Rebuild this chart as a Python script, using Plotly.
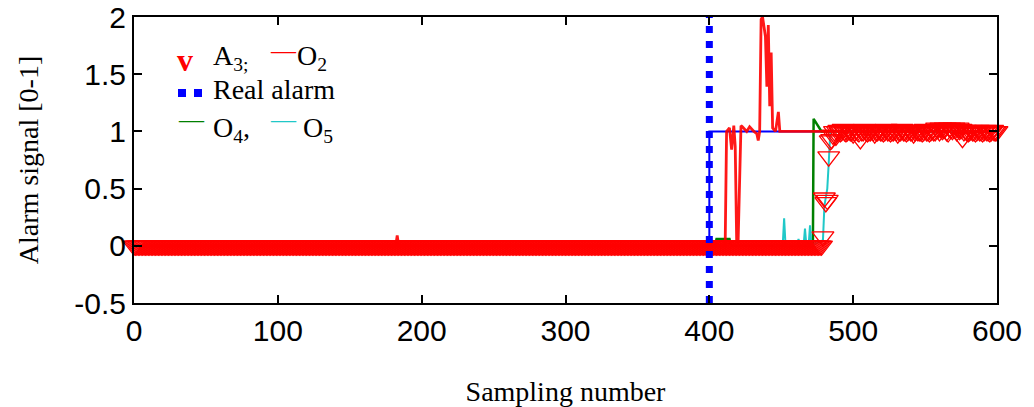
import plotly.graph_objects as go

# ---------------- data ----------------
alarm_time = 400  # sample where the real fault starts

# Real alarm (step at the fault time)
real_x = [400, 400, 600]
real_y = [0, 1, 1]

# O2 detector output (red line), breakpoints
o2_x = [0, 182, 183, 184, 411, 412, 414, 415.5, 417, 418, 419, 420, 422, 423, 426,
        428, 431, 433, 434, 435, 436, 437, 439, 440, 441, 442, 443, 444, 446, 448,
        449, 600]
o2_y = [0, 0, 0.09, 0, 0, 1.0, 1.03, 0.84, 1.05, 0.87, 0.05, 0.03, 1.05, 1.04, 1.0,
        1.04, 1.0, 0.98, 0.92, 1.0, 1.98, 2.0, 1.83, 1.39, 1.93, 1.22, 1.69, 1.03, 1.0, 1.17,
        1.0, 1.0]

# O4 detector output (green line)
o4_x = [400, 404, 405, 414, 415, 472, 472.5, 474, 476, 478, 600]
o4_y = [0.0, 0.0, 0.06, 0.06, 0.0, 0.0, 1.11, 1.08, 1.03, 1.0, 1.0]

# O5 detector output (cyan line)
o5_x = [445, 451, 452, 453, 461, 462, 463, 465.5, 466.5, 467.5, 469, 470, 471,
        479, 480, 481, 482, 483, 484, 485, 600]
o5_y = [0.0, 0.0, 0.24, 0.0, 0.0, 0.06, 0.0, 0.0, 0.15, 0.0, 0.0, 0.18, 0.0,
        0.05, 0.35, 0.42, 0.5, 0.72, 0.97, 1.0, 1.0]

# A3 detector output (red open triangles), one value per sample 0..600
a3_before = [0.0] * 479                      # samples 0..478
a3_transition = [0.08, 0.42, 0.38, 0.40, 0.78, 0.92, 0.93, 0.97]   # 479..486
a3_after = [1.00, 0.96, 1.00, 1.01, 0.99, 1.00, 1.02, 1.00, 0.99, 1.00,
            1.01, 1.00, 1.00, 0.98, 1.00, 1.01, 1.00, 0.99, 0.93, 1.00,
            1.00, 1.02, 1.00, 0.99, 1.00, 1.00, 1.01, 1.00, 0.98, 1.00,
            1.00, 1.01, 1.00, 1.00, 0.99, 1.00, 1.02, 1.00, 1.00, 0.99,
            1.00, 1.00, 1.01, 1.00, 0.98, 1.00, 1.00, 1.02, 1.00, 1.00,
            0.99, 1.00, 1.01, 1.00, 1.00, 0.98, 1.00, 1.01, 1.00, 1.00,
            1.00, 0.99, 1.00, 1.02, 1.00, 1.00, 0.99, 1.00, 1.01, 1.00,
            1.00, 1.03, 1.02, 1.00, 1.03, 1.01, 1.02, 1.03, 1.00, 0.99,
            1.03, 1.02, 1.01, 1.03, 1.02, 1.00, 1.03, 1.01, 1.02, 0.94,
            1.00, 1.01, 1.00, 0.99, 1.00, 1.01, 1.00, 1.00, 0.99, 1.00,
            1.01, 1.00, 1.00, 0.99, 1.00, 1.01, 1.00, 1.00, 0.99, 1.00,
            1.01, 1.00, 1.00, 1.00]              # 487..600
a3_y = a3_before + a3_transition + a3_after
a3_x = list(range(len(a3_y)))

x_ticks = [0, 100, 200, 300, 400, 500, 600]
y_ticks = [-0.5, 0, 0.5, 1, 1.5, 2]
y_ticktext = ["-0.5", "0", "0.5", "1", "1.5", "2"]

SERIF = "Liberation Serif, Times New Roman, serif"
SANS = "Liberation Sans, Arial, sans-serif"

fig = go.Figure()

fig.add_trace(go.Scatter(x=real_x, y=real_y, mode="lines",
                         line=dict(color="#0000ff", width=2), showlegend=False))
fig.add_trace(go.Scatter(x=o4_x, y=o4_y, mode="lines",
                         line=dict(color="#008000", width=2.5), showlegend=False))
fig.add_trace(go.Scatter(x=o5_x, y=o5_y, mode="lines",
                         line=dict(color="#20c8c8", width=2), showlegend=False))
fig.add_trace(go.Scatter(x=o2_x, y=o2_y, mode="lines", opacity=0.9,
                         line=dict(color="#ff0000", width=2.8), showlegend=False))
fig.add_trace(go.Scatter(x=a3_x, y=a3_y, mode="markers", cliponaxis=False,
                         marker=dict(symbol="triangle-down-open", size=19, color="#ff0000",
                                     line=dict(width=1.3, color="#ff0000")),
                         showlegend=False))
fig.add_trace(go.Scatter(x=[alarm_time, alarm_time], y=[-0.5, 2], mode="lines",
                         line=dict(color="#0000ff", width=7, dash="7px,8px"),
                         showlegend=False))

# ------------- legend built from text -------------
L, R, T, B = 134, 997, 17, 303
def px(x):
    return (x - L) / (R - L)
def py(y):
    return (B - y) / (B - T)

ann = []
def txt(x, y, s, color="black", size=28, family=SERIF):
    ann.append(dict(x=px(x), y=py(y), xref="paper", yref="paper", text=s,
                    showarrow=False, xanchor="left", yanchor="middle",
                    font=dict(family=family, size=size, color=color)))

txt(175, 60, "<b>v</b>", color="#ff0000", size=32)
txt(211, 58, "A<sub>3;</sub>")
txt(268, 51, "—", color="#ff0000", size=25)
txt(295, 58, "O<sub>2</sub>")
txt(211, 90, "Real alarm")
txt(176, 120, "—", color="#008000", size=25)
txt(211, 129, "O<sub>4</sub>,")
txt(268, 120, "—", color="#20c8c8", size=25)
txt(301, 129, "O<sub>5</sub>")

shapes = []
for sx in (178, 194):
    shapes.append(dict(type="rect", xref="paper", yref="paper",
                       x0=px(sx), x1=px(sx + 8), y0=py(97), y1=py(89),
                       fillcolor="#0000ff", line=dict(width=0)))

fig.update_layout(
    width=1034, height=407,
    margin=dict(l=L, r=1034 - R, t=T, b=407 - B),
    paper_bgcolor="white", plot_bgcolor="white",
    showlegend=False,
    annotations=ann, shapes=shapes,
    xaxis=dict(range=[0, 600], tickvals=x_ticks, ticks="inside", ticklen=8,
               tickwidth=2, tickcolor="black", showline=True, linewidth=2,
               linecolor="black", mirror="ticks", showgrid=False, zeroline=False,
               tickfont=dict(family=SANS, size=30, color="black"),
               title=dict(text="Sampling number", standoff=35,
                          font=dict(family=SERIF, size=28, color="black")),
               automargin=False),
    yaxis=dict(range=[-0.5, 2], tickvals=y_ticks, ticktext=y_ticktext,
               ticks="inside", ticklen=8, tickwidth=2, tickcolor="black",
               showline=True, linewidth=2, linecolor="black", mirror="ticks",
               showgrid=False, zeroline=False,
               tickfont=dict(family=SANS, size=30, color="black"),
               title=dict(text="Alarm signal [0-1]", standoff=27,
                          font=dict(family=SERIF, size=28, color="black")),
               automargin=False),
)

fig.write_html("out.html", config={"displayModeBar": False},
               post_script="document.body.style.margin='0';document.body.style.overflow='hidden';")
